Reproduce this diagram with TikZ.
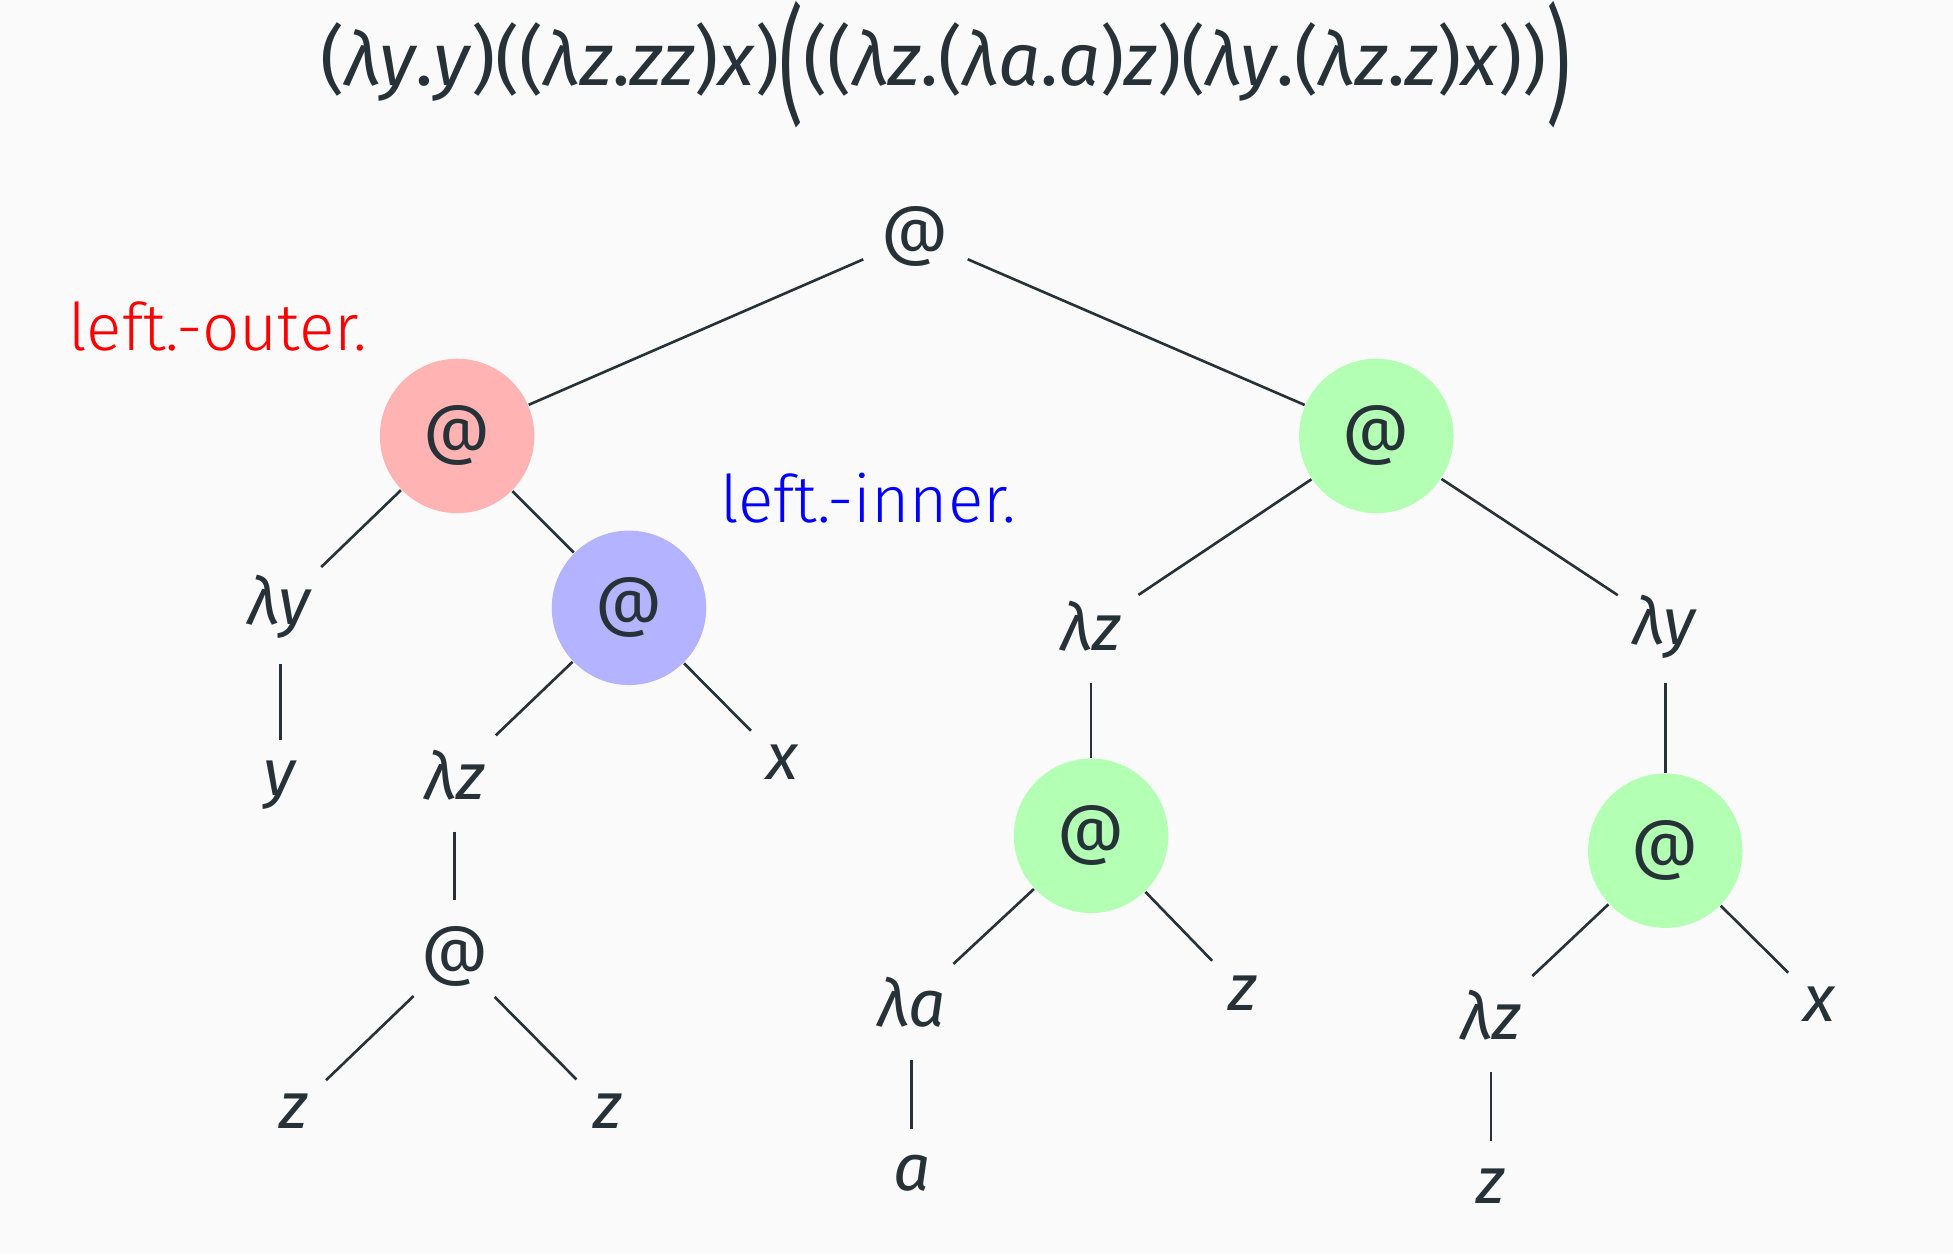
\documentclass[tikz,border=0pt]{standalone}
\usepackage{fontspec}
\usepackage{graphicx}
\setmainfont{Fira Sans}
\newfontfamily\labelfont{Fira Sans}[UprightFont=* Light]
\usetikzlibrary{positioning}

\definecolor{ink}{HTML}{263238}
\definecolor{bgcol}{HTML}{FAFAFA}
\definecolor{outercol}{HTML}{FFB3B3}
\definecolor{innercol}{HTML}{B3B3FF}
\definecolor{reducol}{HTML}{B3FFB3}
\newcommand{\bigparen}[1]{\raisebox{-0.32em}{\scalebox{1}[1.72]{#1}}}

\begin{document}
\begin{tikzpicture}[
    font=\fontsize{15}{18}\selectfont,
    every node/.style={text=ink},
    term/.style={circle, inner sep=0pt, minimum size=0.9cm},
    leaf/.style={circle, inner sep=0pt, minimum size=0.7cm},
    appnode/.style={circle, inner sep=0pt, minimum size=1.24cm},
    note/.style={font=\fontsize{15}{18}\labelfont},
    edge/.style={draw=ink, line width=0.6pt}
]
\useasboundingbox (0,0) rectangle (15.68,-10.07);
\fill[bgcol] (0,0) rectangle (15.68,-10.07);

% Term
\node[font=\fontsize{17}{20}\selectfont] (formula) at (7.59,-0.52) {(\textit{λy}.\textit{y})((\textit{λz}.\textit{zz})\textit{x})\bigparen{(}((\textit{λz}.(\textit{λa}.\textit{a})\textit{z})(\textit{λy}.(\textit{λz}.\textit{z})\textit{x}))\bigparen{)}};

% Root
\node[term] (root) at (7.35,-1.90) {@};

% Left subtree
\node[appnode, fill=outercol] (outer) at (3.67,-3.50) {@};
\node[note, text=red] (outerlbl) at (1.75,-2.62) {left.-outer.};
\node[term] (ly1) at (2.25,-4.87) {\textit{λy}};
\node[leaf] (y1) at (2.25,-6.30) {\textit{y}};
\node[appnode, fill=innercol] (inner) at (5.05,-4.88) {@};
\node[note, text=blue] (innerlbl) at (6.97,-4.00) {left.-inner.};
\node[term] (lz1) at (3.65,-6.22) {\textit{λz}};
\node[leaf] (x1) at (6.28,-6.12) {\textit{x}};
\node[term] (app1) at (3.65,-7.68) {@};
\node[leaf] (z1) at (2.36,-8.92) {\textit{z}};
\node[leaf] (z2) at (4.88,-8.92) {\textit{z}};

% Right subtree
\node[appnode, fill=reducol] (right) at (11.05,-3.50) {@};
\node[term] (lz2) at (8.76,-5.03) {\textit{λz}};
\node[appnode, fill=reducol] (app2) at (8.76,-6.71) {@};
\node[term] (la) at (7.32,-8.05) {\textit{λa}};
\node[leaf] (a1) at (7.32,-9.42) {\textit{a}};
\node[leaf] (z3) at (9.98,-7.97) {\textit{z}};
\node[term] (ly2) at (13.37,-5.03) {\textit{λy}};
\node[appnode, fill=reducol] (app3) at (13.37,-6.83) {@};
\node[term] (lz3) at (11.97,-8.15) {\textit{λz}};
\node[leaf] (z4) at (11.97,-9.52) {\textit{z}};
\node[leaf] (x2) at (14.61,-8.06) {\textit{x}};

% Edges
\draw[edge] (root) -- (outer);
\draw[edge] (root) -- (right);
\draw[edge] (outer) -- (ly1);
\draw[edge] (ly1) -- (y1);
\draw[edge] (outer) -- (inner);
\draw[edge] (inner) -- (lz1);
\draw[edge] (inner) -- (x1);
\draw[edge] (lz1) -- (app1);
\draw[edge] (app1) -- (z1);
\draw[edge] (app1) -- (z2);
\draw[edge] (right) -- (lz2);
\draw[edge] (lz2) -- (app2);
\draw[edge] (app2) -- (la);
\draw[edge] (la) -- (a1);
\draw[edge] (app2) -- (z3);
\draw[edge] (right) -- (ly2);
\draw[edge] (ly2) -- (app3);
\draw[edge] (app3) -- (lz3);
\draw[edge] (lz3) -- (z4);
\draw[edge] (app3) -- (x2);

\end{tikzpicture}
\end{document}
